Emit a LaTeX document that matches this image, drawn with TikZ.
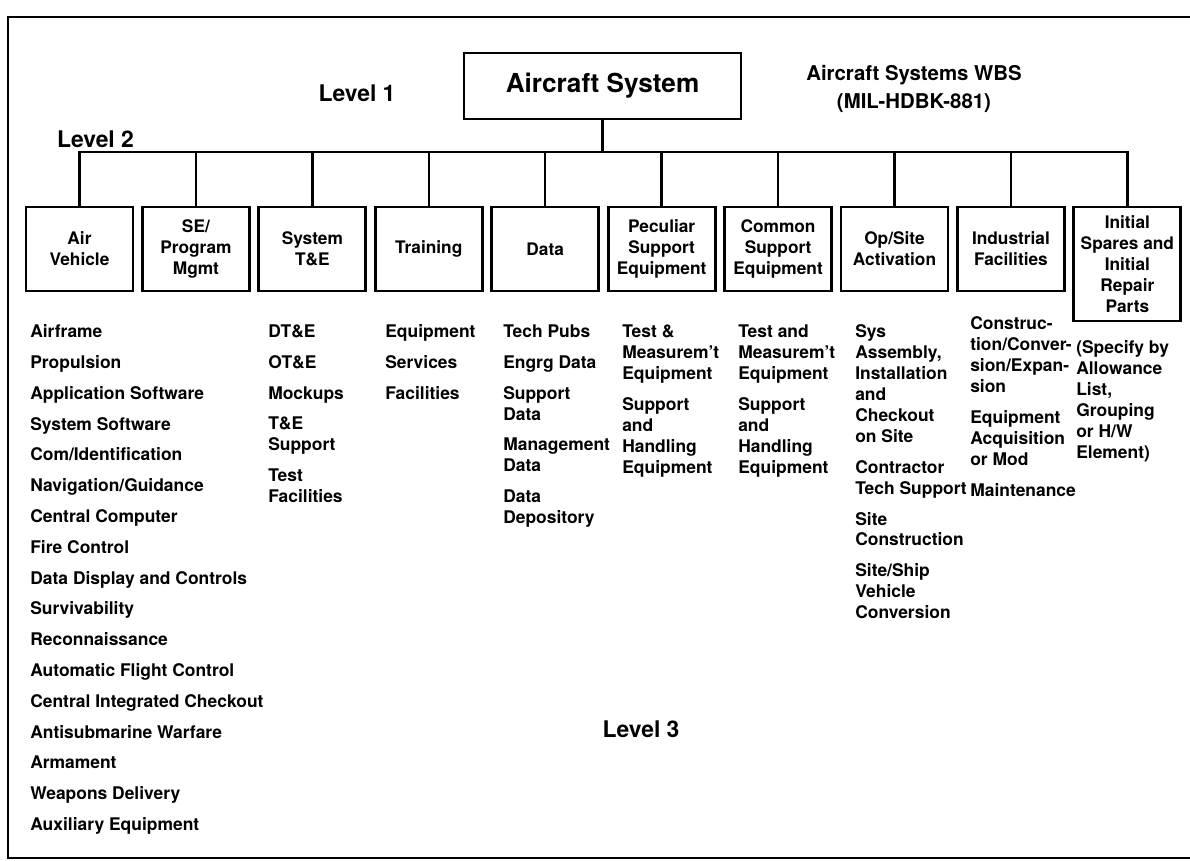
\documentclass[tikz,border=0pt]{standalone}
\usepackage{fontspec}
\setmainfont{TeX Gyre Heros}
\usepackage{tikz}
\usetikzlibrary{
  positioning
}
\tikzset{
  wbsbox/.style={
    draw,
    line width=2pt,
    align=center,
    minimum width=2.675cm,
    minimum height=2.1cm,
    inner sep=2pt,
    outer sep=0pt,
    font=\fontsize{12.3}{14.9}\selectfont\bfseries
  },
  topbox/.style={wbsbox,minimum width=6.925cm,minimum height=1.65cm,font=\fontsize{18.6}{22}\selectfont\bfseries},
  levellabel/.style={font=\fontsize{16.3}{19}\selectfont\bfseries},
  titletext/.style={align=center,font=\fontsize{14.5}{19.9}\selectfont\bfseries},
  itemlist/.style={anchor=north west,align=left,inner sep=0pt,font=\fontsize{12.4}{14.9}\selectfont\bfseries},
  wbsline/.style={line width=1.8pt},
}
\begin{document}
\begin{tikzpicture}[x=0.025cm,y=-0.025cm,node distance=0.235cm]
  \useasboundingbox (0,0) rectangle (1190,861);
  % Frame
  \draw[wbsline] (1200,17) -- (8,17) -- (8,858) -- (1200,858);

  % Level 1
  \node[topbox] (top) at (602.5,86) {Aircraft System};
  \node[levellabel] (lvone) at (357,93) {Level 1};
  \node[titletext] (title) at (914,89) {Aircraft Systems WBS\\(MIL-HDBK-881)};

  % Level 2
  \node[levellabel] (lvtwo) at (95.5,139) {Level 2};
  \node[wbsbox] (av) at (79.5,249) {Air\\Vehicle};
  \node[wbsbox,right=of av] (se) {SE/\\Program\\Mgmt};
  \node[wbsbox,right=of se] (ste) {System\\T\&E};
  \node[wbsbox,right=of ste] (trn) {Training};
  \node[wbsbox,right=of trn] (dat) {Data};
  \node[wbsbox,right=of dat] (pse) {Peculiar\\Support\\Equipment};
  \node[wbsbox,right=of pse] (cse) {Common\\Support\\Equipment};
  \node[wbsbox,right=of cse] (ops) {Op/Site\\Activation};
  \node[wbsbox,right=of ops] (ind) {Industrial\\Facilities};
  \node[wbsbox,right=of ind.north east,anchor=north west,minimum height=2.85cm] (isp) {Initial\\Spares and\\Initial\\Repair\\Parts};

  \coordinate (bus) at (602.5,152);
  \draw[wbsline] (top.south) -- (bus);
  \draw[wbsline] (av.north) |- (bus) -| (isp.north);
  \foreach \b in {se,ste,trn,dat,pse,cse,ops,ind}
    \draw[wbsline] (\b.north |- bus) -- (\b.north);

  % Level 3
  \node[itemlist] (avlist) at (30,324.5) {Airframe\\[7pt]Propulsion\\[7pt]Application Software\\[7pt]System Software\\[7pt]Com/Identification\\[7pt]Navigation/Guidance\\[7pt]Central Computer\\[7pt]Fire Control\\[7pt]Data Display and Controls\\[7pt]Survivability\\[7pt]Reconnaissance\\[7pt]Automatic Flight Control\\[7pt]Central Integrated Checkout\\[7pt]Antisubmarine Warfare\\[7pt]Armament\\[7pt]Weapons Delivery\\[7pt]Auxiliary Equipment};
  \node[itemlist] (stelist) at (268,324.5) {DT\&E\\[7pt]OT\&E\\[7pt]Mockups\\[7pt]T\&E\\Support\\[7pt]Test\\Facilities};
  \node[itemlist] (trnlist) at (385,324.5) {Equipment\\[7pt]Services\\[7pt]Facilities};
  \node[itemlist] (datlist) at (503,324.5) {Tech Pubs\\[7pt]Engrg Data\\[7pt]Support\\Data\\[7pt]Management\\Data\\[7pt]Data\\Depository};
  \node[itemlist] (pselist) at (622,324.5) {Test \&\\Measurem't\\Equipment\\[7pt]Support\\and\\Handling\\Equipment};
  \node[itemlist] (cselist) at (738,324.5) {Test and\\Measurem't\\Equipment\\[7pt]Support\\and\\Handling\\Equipment};
  \node[itemlist] (opslist) at (855,324.5) {Sys\\Assembly,\\Installation\\and\\Checkout\\on Site\\[7pt]Contractor\\Tech Support\\[7pt]Site\\Construction\\[7pt]Site/Ship\\Vehicle\\Conversion};
  \node[itemlist] (indlist) at (970,316.5) {Construc-\\tion/Conver-\\sion/Expan-\\sion\\[7pt]Equipment\\Acquisition\\or Mod\\[7pt]Maintenance};
  \node[itemlist] (isplist) at (1076,340) {(Specify by\\Allowance\\List,\\Grouping\\or H/W\\Element)};
  \node[levellabel] (lvthree) at (641,729) {Level 3};
\end{tikzpicture}
\end{document}
